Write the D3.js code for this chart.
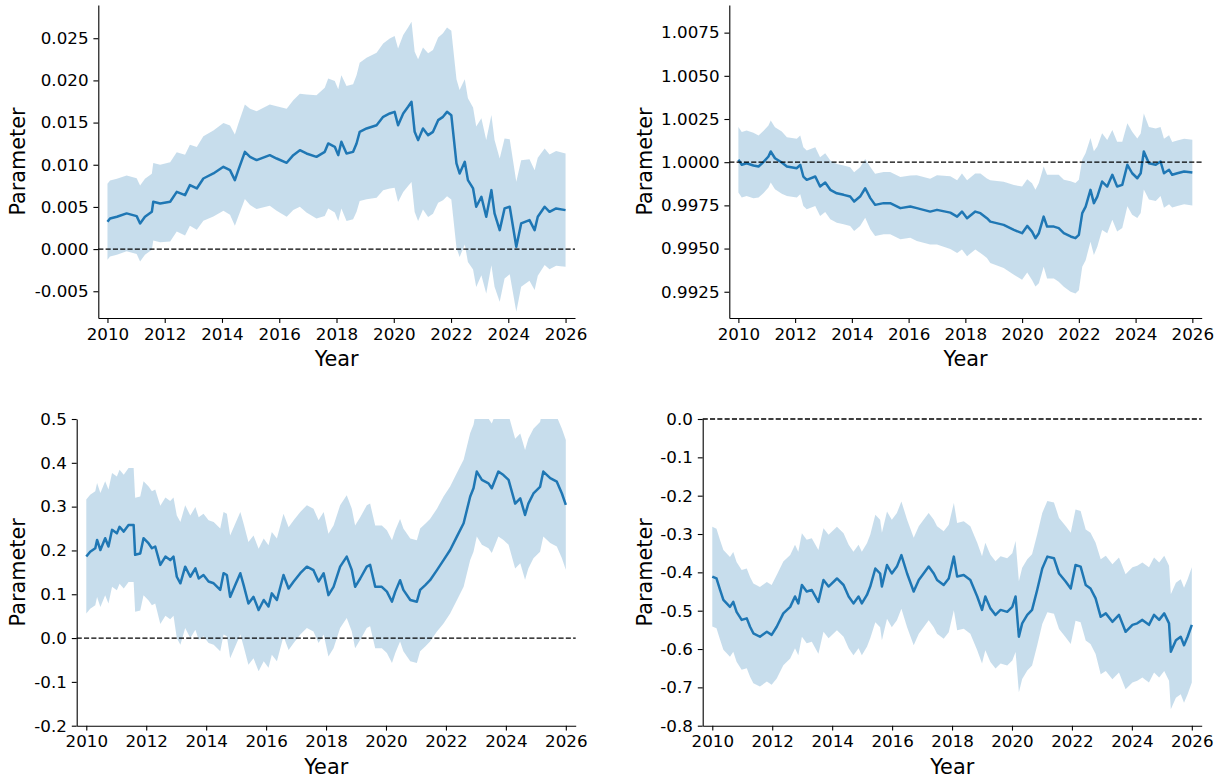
<!DOCTYPE html>
<html>
<head>
<meta charset="utf-8">
<script src="https://cdn.jsdelivr.net/npm/d3@7"></script>
<style>
  html, body { margin: 0; padding: 0; background: #ffffff; }
  svg { display: block; }
  text { font-family: "DejaVu Sans", sans-serif; fill: #000; }
</style>
</head>
<body>
<svg id="fig" width="1225" height="780"></svg>
<script>
// ---- Data: time-varying parameter estimates with confidence bands ----
const yearTicks = [2010, 2012, 2014, 2016, 2018, 2020, 2022, 2024, 2026];

// Panel A (top left)
const aYears = [2010.00,2010.09,2010.33,2010.67,2011.02,2011.14,2011.31,2011.55,2011.60,2011.84,
  2012.19,2012.42,2012.71,2012.88,2013.12,2013.35,2013.70,2014.05,2014.28,2014.45,
  2014.57,2014.80,2014.98,2015.21,2015.67,2015.91,2016.26,2016.49,2016.72,2016.95,
  2017.30,2017.59,2017.71,2017.94,2018.06,2018.17,2018.35,2018.58,2018.70,2018.81,
  2019.05,2019.40,2019.63,2019.86,2020.03,2020.15,2020.33,2020.50,2020.62,2020.73,
  2020.85,2021.02,2021.20,2021.37,2021.55,2021.72,2021.86,2022.01,2022.19,2022.30,
  2022.48,2022.59,2022.77,2022.88,2023.06,2023.23,2023.41,2023.52,2023.70,2023.87,
  2024.05,2024.28,2024.45,2024.74,2024.92,2025.03,2025.27,2025.44,2025.67,2026.00];
const aMean = [0.00324,0.00363,0.00383,0.00423,0.00391,0.00304,0.00383,0.00442,0.00561,0.00541,
  0.00561,0.00679,0.00640,0.00758,0.00719,0.00837,0.00897,0.00976,0.00936,0.00818,
  0.00936,0.01153,0.01094,0.01055,0.01114,0.01074,0.01023,0.01114,0.01173,0.01134,
  0.01094,0.01153,0.01252,0.01213,0.01114,0.01272,0.01134,0.01153,0.01252,0.01390,
  0.01430,0.01469,0.01568,0.01608,0.01627,0.01469,0.01608,0.01687,0.01746,0.01390,
  0.01292,0.01430,0.01351,0.01390,0.01529,0.01568,0.01627,0.01588,0.01015,0.00897,
  0.01035,0.00818,0.00719,0.00502,0.00620,0.00383,0.00699,0.00423,0.00225,0.00482,
  0.00502,0.00028,0.00304,0.00344,0.00225,0.00383,0.00502,0.00442,0.00482,0.00462];
const aHalf = [0.0045,0.0045,0.0045,0.0045,0.0045,0.0045,0.0045,0.0045,0.0046,0.0046,
  0.0047,0.0047,0.0048,0.0048,0.0049,0.0050,0.0051,0.0052,0.0053,0.0054,
  0.0055,0.0056,0.0057,0.0058,0.0060,0.0062,0.0064,0.0065,0.0067,0.0070,
  0.0073,0.0076,0.0077,0.0078,0.0078,0.0079,0.0080,0.0080,0.0081,0.0082,
  0.0084,0.0086,0.0087,0.0089,0.0090,0.0091,0.0093,0.0094,0.0095,0.0095,
  0.0096,0.0096,0.0097,0.0097,0.0098,0.0099,0.0100,0.0100,0.0100,0.0099,
  0.0098,0.0097,0.0096,0.0095,0.0093,0.0091,0.0089,0.0087,0.0085,0.0083,
  0.0080,0.0077,0.0075,0.0072,0.0071,0.0070,0.0069,0.0068,0.0068,0.0067];
const aTicks = [-0.005, 0.000, 0.005, 0.010, 0.015, 0.020, 0.025];

// Panel B (top right)
const bYears = [2010.00,2010.12,2010.29,2010.53,2010.71,2010.88,2011.06,2011.14,2011.29,2011.53,
  2011.71,2012.06,2012.18,2012.29,2012.41,2012.71,2012.88,2013.06,2013.24,2013.47,
  2013.71,2013.94,2014.08,2014.29,2014.47,2014.65,2014.82,2015.12,2015.35,2015.71,
  2016.06,2016.29,2016.76,2017.00,2017.47,2017.71,2017.88,2018.06,2018.35,2018.53,
  2018.76,2018.88,2019.35,2019.71,2020.00,2020.18,2020.35,2020.47,2020.59,2020.76,
  2020.88,2021.12,2021.29,2021.47,2021.71,2021.88,2022.00,2022.12,2022.24,2022.41,
  2022.53,2022.65,2022.82,2023.00,2023.18,2023.35,2023.53,2023.71,2023.88,2024.06,
  2024.18,2024.29,2024.47,2024.71,2024.88,2025.00,2025.18,2025.29,2025.47,2025.71,2026.00];
const bMean = [1.00014,0.99985,0.99994,0.99981,0.99975,1.00000,1.00033,1.00062,1.00023,0.99998,
  0.99975,0.99965,0.99985,0.99917,0.99898,0.99917,0.99859,0.99882,0.99840,0.99820,
  0.99811,0.99801,0.99772,0.99801,0.99849,0.99792,0.99753,0.99763,0.99763,0.99734,
  0.99743,0.99734,0.99714,0.99724,0.99708,0.99685,0.99714,0.99676,0.99714,0.99705,
  0.99676,0.99656,0.99637,0.99608,0.99589,0.99631,0.99598,0.99560,0.99589,0.99685,
  0.99627,0.99627,0.99618,0.99589,0.99570,0.99560,0.99579,0.99705,0.99743,0.99840,
  0.99763,0.99801,0.99888,0.99859,0.99927,0.99859,0.99869,0.99985,0.99936,0.99907,
  0.99936,1.00062,0.99994,0.99985,1.00004,0.99936,0.99956,0.99927,0.99936,0.99946,0.99940];
const bHalf = [0.0019,0.0019,0.0019,0.0019,0.0018,0.0018,0.0018,0.0018,0.0018,0.0018,
  0.0017,0.0017,0.0017,0.0017,0.0017,0.0017,0.0017,0.0017,0.0017,0.0017,
  0.0017,0.0017,0.0017,0.0017,0.0017,0.0018,0.0018,0.0018,0.0018,0.0018,
  0.0018,0.0019,0.0019,0.0020,0.0021,0.0021,0.0022,0.0022,0.0022,0.0023,
  0.0023,0.0024,0.0025,0.0026,0.0027,0.0027,0.0028,0.0028,0.0029,0.0029,
  0.0030,0.0030,0.0031,0.0031,0.0032,0.0032,0.0032,0.0031,0.0031,0.0030,
  0.0030,0.0029,0.0028,0.0027,0.0026,0.0026,0.0025,0.0024,0.0024,0.0023,
  0.0023,0.0022,0.0021,0.0021,0.0020,0.0020,0.0020,0.0019,0.0019,0.0019,0.0019];
const bTicks = [0.9925, 0.9950, 0.9975, 1.0000, 1.0025, 1.0050, 1.0075];

// Panel C (bottom left)
const cYears = [2010.00,2010.13,2010.30,2010.36,2010.47,2010.63,2010.74,2010.86,2011.02,2011.11,
  2011.25,2011.41,2011.58,2011.63,2011.80,2011.91,2012.08,2012.19,2012.30,2012.47,
  2012.64,2012.80,2012.91,2013.02,2013.14,2013.30,2013.47,2013.64,2013.75,2013.91,
  2014.08,2014.25,2014.47,2014.58,2014.69,2014.80,2014.97,2015.14,2015.25,2015.41,
  2015.58,2015.75,2015.92,2016.08,2016.19,2016.36,2016.58,2016.75,2016.92,2017.14,
  2017.36,2017.58,2017.75,2017.92,2018.08,2018.25,2018.47,2018.69,2018.86,2018.97,
  2019.14,2019.36,2019.47,2019.64,2019.86,2020.03,2020.20,2020.31,2020.47,2020.58,
  2020.81,2021.03,2021.14,2021.31,2021.47,2021.70,2021.92,2022.14,2022.36,2022.59,
  2022.81,2022.92,2023.03,2023.20,2023.42,2023.53,2023.75,2023.92,2024.09,2024.31,
  2024.48,2024.64,2024.75,2024.92,2025.14,2025.25,2025.48,2025.70,2025.87,2026.00];
const cMean = [0.186,0.197,0.205,0.224,0.201,0.228,0.209,0.247,0.239,0.254,
  0.243,0.258,0.258,0.190,0.193,0.228,0.216,0.205,0.209,0.167,
  0.186,0.178,0.186,0.140,0.125,0.163,0.140,0.159,0.136,0.144,
  0.129,0.125,0.110,0.148,0.144,0.094,0.121,0.148,0.121,0.079,
  0.094,0.064,0.087,0.072,0.102,0.087,0.144,0.113,0.129,0.148,
  0.163,0.155,0.129,0.148,0.098,0.117,0.163,0.186,0.155,0.117,
  0.136,0.163,0.167,0.117,0.117,0.106,0.083,0.106,0.132,0.110,
  0.087,0.083,0.110,0.121,0.132,0.155,0.178,0.201,0.231,0.262,
  0.323,0.342,0.380,0.361,0.353,0.342,0.380,0.372,0.361,0.307,
  0.319,0.281,0.307,0.330,0.345,0.380,0.365,0.357,0.330,0.304];
const cHalf = [0.130,0.130,0.130,0.130,0.130,0.130,0.130,0.130,0.130,0.130,
  0.130,0.130,0.130,0.130,0.130,0.130,0.130,0.130,0.130,0.135,
  0.135,0.135,0.135,0.140,0.140,0.140,0.140,0.140,0.140,0.140,
  0.140,0.140,0.140,0.140,0.140,0.140,0.140,0.140,0.140,0.140,
  0.140,0.140,0.140,0.140,0.140,0.140,0.140,0.140,0.140,0.140,
  0.140,0.140,0.140,0.140,0.140,0.140,0.140,0.140,0.140,0.140,
  0.140,0.140,0.140,0.140,0.140,0.140,0.140,0.140,0.140,0.140,
  0.140,0.140,0.140,0.140,0.140,0.140,0.145,0.145,0.145,0.145,
  0.145,0.145,0.148,0.148,0.148,0.148,0.148,0.148,0.148,0.148,
  0.148,0.148,0.148,0.148,0.148,0.148,0.148,0.148,0.148,0.148];
const cTicks = [-0.2, -0.1, 0.0, 0.1, 0.2, 0.3, 0.4, 0.5];

// Panel D (bottom right)
const dYears = [2010.00,2010.14,2010.26,2010.37,2010.59,2010.70,2010.81,2010.98,2011.15,2011.26,
  2011.37,2011.59,2011.82,2011.98,2012.15,2012.37,2012.60,2012.76,2012.87,2012.99,
  2013.15,2013.32,2013.54,2013.71,2013.88,2014.16,2014.38,2014.55,2014.71,2014.88,
  2014.99,2015.16,2015.27,2015.44,2015.60,2015.66,2015.83,2015.99,2016.16,2016.31,
  2016.50,2016.72,2016.89,2017.05,2017.22,2017.39,2017.50,2017.72,2017.89,2018.06,
  2018.17,2018.39,2018.61,2018.84,2019.00,2019.11,2019.28,2019.45,2019.62,2019.84,
  2020.01,2020.12,2020.23,2020.34,2020.51,2020.67,2020.84,2021.01,2021.18,2021.40,
  2021.57,2021.79,2021.96,2022.12,2022.29,2022.46,2022.62,2022.79,2022.96,2023.13,
  2023.35,2023.57,2023.79,2024.02,2024.18,2024.35,2024.57,2024.74,2024.91,2025.08,
  2025.24,2025.30,2025.47,2025.63,2025.74,2025.86,2026.00];
const dMean = [-0.411,-0.416,-0.446,-0.472,-0.490,-0.477,-0.503,-0.524,-0.520,-0.542,
  -0.559,-0.568,-0.555,-0.563,-0.542,-0.507,-0.490,-0.463,-0.481,-0.433,
  -0.450,-0.446,-0.477,-0.420,-0.437,-0.416,-0.433,-0.463,-0.481,-0.463,
  -0.481,-0.459,-0.437,-0.390,-0.403,-0.437,-0.381,-0.403,-0.385,-0.355,
  -0.403,-0.450,-0.420,-0.403,-0.385,-0.403,-0.420,-0.433,-0.416,-0.359,
  -0.411,-0.407,-0.420,-0.463,-0.498,-0.463,-0.494,-0.511,-0.498,-0.503,
  -0.490,-0.463,-0.568,-0.533,-0.511,-0.498,-0.446,-0.390,-0.359,-0.363,
  -0.403,-0.424,-0.442,-0.381,-0.385,-0.433,-0.442,-0.468,-0.516,-0.507,
  -0.529,-0.511,-0.555,-0.537,-0.533,-0.524,-0.537,-0.511,-0.524,-0.507,
  -0.533,-0.607,-0.577,-0.568,-0.590,-0.568,-0.537];
const dHalf = [0.130,0.130,0.130,0.130,0.130,0.130,0.130,0.130,0.130,0.130,
  0.130,0.130,0.130,0.130,0.135,0.135,0.135,0.135,0.135,0.135,
  0.135,0.135,0.135,0.135,0.135,0.135,0.135,0.135,0.135,0.135,
  0.135,0.135,0.135,0.140,0.140,0.140,0.140,0.140,0.140,0.140,
  0.140,0.140,0.140,0.140,0.140,0.140,0.140,0.140,0.140,0.140,
  0.140,0.140,0.140,0.140,0.140,0.140,0.140,0.140,0.140,0.140,
  0.140,0.145,0.145,0.145,0.145,0.145,0.145,0.145,0.145,0.145,
  0.145,0.145,0.145,0.145,0.145,0.145,0.145,0.145,0.150,0.150,
  0.150,0.150,0.150,0.150,0.150,0.150,0.150,0.150,0.150,0.150,
  0.150,0.150,0.150,0.150,0.150,0.150,0.150];
const dTicks = [-0.8, -0.7, -0.6, -0.5, -0.4, -0.3, -0.2, -0.1, 0.0];

// ---- Layout and styling ----
const BLUE = "#1f77b4";
const TICK_FONT = 16.7, LABEL_FONT = 20.8;
const xDomain = [2009.68, 2026.33];

const panels = [
  { years: aYears, mean: aMean, half: aHalf, ticks: aTicks, fmt: ".3f", ref: 0,
    yDomain: [-0.00817, 0.02894], box: { l: 98.3, r: 575, t: 5, b: 318 }, labelX: 25 },
  { years: bYears, mean: bMean, half: bHalf, ticks: bTicks, fmt: ".4f", ref: 1,
    yDomain: [0.99098, 1.0091], box: { l: 729.3, r: 1201.7, t: 5, b: 318 }, labelX: 652 },
  { years: cYears, mean: cMean, half: cHalf, ticks: cTicks, fmt: ".1f", ref: 0,
    yDomain: [-0.2, 0.5], box: { l: 76.7, r: 575.7, t: 419, b: 725.7 }, labelX: 25 },
  { years: dYears, mean: dMean, half: dHalf, ticks: dTicks, fmt: ".1f", ref: 0,
    yDomain: [-0.8, 0.0], box: { l: 702.7, r: 1201.7, t: 419, b: 725.7 }, labelX: 652 }
];

const svg = d3.select("#fig");

panels.forEach((p, i) => {
  const { l, r, t, b } = p.box;
  const x = d3.scaleLinear().domain(xDomain).range([l, r]);
  const y = d3.scaleLinear().domain(p.yDomain).range([b, t]);
  const fmt = d3.format(p.fmt);
  const rows = p.years.map((yr, k) => ({ yr, m: p.mean[k], h: p.half[k] }));

  const g = svg.append("g");

  const clipId = "clip" + i;
  svg.append("clipPath").attr("id", clipId)
    .append("rect").attr("x", l).attr("y", t).attr("width", r - l).attr("height", b - t);

  const plot = g.append("g").attr("clip-path", `url(#${clipId})`);

  // confidence band
  plot.append("path")
    .datum(rows)
    .attr("fill", BLUE)
    .attr("fill-opacity", 0.25)
    .attr("stroke", "none")
    .attr("d", d3.area().x(d => x(d.yr)).y0(d => y(d.m - d.h)).y1(d => y(d.m + d.h)));

  // point estimate
  plot.append("path")
    .datum(rows)
    .attr("fill", "none")
    .attr("stroke", BLUE)
    .attr("stroke-width", 2.5)
    .attr("stroke-linejoin", "round")
    .attr("d", d3.line().x(d => x(d.yr)).y(d => y(d.m)));

  // reference level
  g.append("line")
    .attr("x1", l).attr("x2", r)
    .attr("y1", y(p.ref)).attr("y2", y(p.ref))
    .attr("stroke", "#000")
    .attr("stroke-width", 1.3)
    .attr("stroke-dasharray", "5.1,2.2");

  // axes
  const yAxis = d3.axisLeft(y)
    .tickValues(p.ticks)
    .tickFormat(v => fmt(v).replace("\u2212", "-"))
    .tickSize(4.9).tickSizeOuter(0).tickPadding(4.9);
  const xAxis = d3.axisBottom(x)
    .tickValues(yearTicks)
    .tickFormat(d3.format("d"))
    .tickSize(4.9).tickSizeOuter(0).tickPadding(4.9);

  const ya = g.append("g").attr("transform", `translate(${l},0)`).call(yAxis);
  const xa = g.append("g").attr("transform", `translate(0,${b})`).call(xAxis);
  [ya, xa].forEach(a => {
    a.select(".domain").attr("stroke", "#000").attr("stroke-width", 1.1);
    a.selectAll(".tick line").attr("stroke", "#000").attr("stroke-width", 1.1);
    a.selectAll(".tick text")
      .attr("font-family", "DejaVu Sans")
      .attr("font-size", TICK_FONT)
      .attr("fill", "#000");
  });

  // axis titles
  g.append("text")
    .attr("x", (l + r) / 2)
    .attr("y", b + 48)
    .attr("text-anchor", "middle")
    .attr("font-size", LABEL_FONT)
    .text("Year");

  g.append("text")
    .attr("transform", `translate(${p.labelX},${(t + b) / 2}) rotate(-90)`)
    .attr("text-anchor", "middle")
    .attr("font-size", LABEL_FONT)
    .text("Parameter");
});
</script>
</body>
</html>
